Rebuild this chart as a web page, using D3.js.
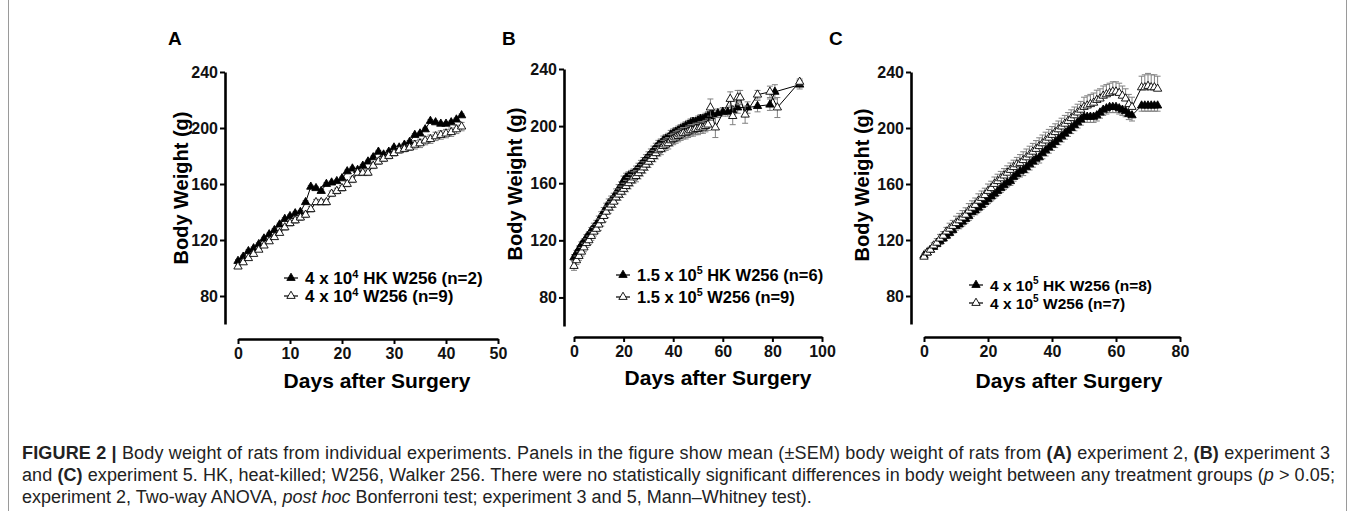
<!DOCTYPE html>
<html>
<head>
<meta charset="utf-8">
<script src="https://cdn.jsdelivr.net/npm/d3@7"></script>
<style>
  body { margin: 0; background: #fff; }
  svg { display: block; font-family: "Liberation Sans", Arial, sans-serif; }
</style>
</head>
<body>
<script>
// ---- data ----
var yTicks = [80, 120, 160, 200, 240];

// Panel A, experiment 2
var aXTicks = [0, 10, 20, 30, 40, 50];
var aDays = d3.range(0, 44);
var aHk = [105,108,112,114,117,121,124,127,131,135,137,139,140,147,158,157,155,160,161,162,164,169,171,170,173,176,179,183,181,183,186,186,188,190,195,196,199,205,204,203,203,204,206,209];
var aHkSem = [1,1,1,1,1,1,1,1,1,1,1,1,1,1,1,1,1,1,1,1,1,1,1,1,1,1,1,1,1,1,1,1,1,1,1,1,1,1,1,1,1,1,1,1];
var aW = [101,104,107,110,113,116,119,122,125,129,132,134,136,138,142,147,147,147,153,155,157,160,163,168,168,168,173,176,178,180,182,184,185,186,188,189,191,192,194,195,196,197,199,201];
var aWSem = [1,1,1,1,1,1,1,1,1,2,2,2,2,2,2,2,2,2,2,2,2,2,2,2,2,2,2,2,2,2,2,2,2,2,3,3,3,3,3,3,3,3,3,3];
var aLegend = [["4 x 10", "4", " HK W256 (n=2)"], ["4 x 10", "4", " W256 (n=9)"]];

// Panel B, experiment 3
var bXTicks = [0, 20, 40, 60, 80, 100];
var bHkDays = d3.range(0, 57).concat([58, 60, 62, 64, 66, 70, 74, 79, 81, 91]);
var bHk = [108,111,114,117,119,122,124,127,129,131,134,137,140,143,146,148,150,153,156,158,162,164,165,166,167,169,171,173,175,177,179,181,183,185,187,188,190,191,192,194,195,196,197,198,199,200,201,202,203,203,204,205,205,206,207,207,208,
           209,210,210,211,213,213,214,215,224,229];
var bHkSem = [2,2,2,2,2,2,2,2,3,3,3,3,3,3,3,3,3,3,3,3,3,3,3,3,3,3,3,3,3,3,3,3,3,3,3,3,3,3,3,3,3,3,3,3,3,3,3,3,3,3,3,3,3,3,3,3,3,
              3,3,3,3,4,4,4,4,5,3];
var bWDays = d3.range(0, 55).concat([55, 57, 63, 64, 66, 67, 69, 74, 79, 82, 91]);
var bW = [102,106,109,112,115,118,120,123,126,128,131,134,137,140,143,145,147,150,152,154,156,158,160,162,164,165,167,169,171,173,175,177,179,181,183,184,186,187,188,190,191,192,193,194,195,195,196,197,197,198,198,199,199,200,201,
          213,199,219,207,220,220,208,222,224,213,231];
var bWSem = [3,3,3,3,3,3,3,3,3,3,4,4,4,4,4,4,4,4,4,4,4,4,4,4,4,4,4,4,4,4,4,4,4,4,4,4,4,4,4,4,4,4,4,4,4,4,4,4,4,4,4,4,4,4,4,
             6,7,5,6,5,5,6,3,4,7,2];
var bLegend = [["1.5 x 10", "5", " HK W256 (n=6)"], ["1.5 x 10", "5", " W256 (n=9)"]];

// Panel C, experiment 5
var cXTicks = [0, 20, 40, 60, 80];
var cDays = d3.range(0, 66).concat([68, 69, 70, 71, 72, 73]);
var cHk = [109,111,113,115,117,119,121,123,125,127,130,131,133,135,137,140,141,143,145,147,149,151,153,155,157,159,161,162,165,167,169,170,172,174,176,178,179,182,184,186,188,190,192,194,196,198,200,202,204,206,208,208,208,208,209,211,213,214,215,215,215,214,213,212,210,209,
           216,216,216,216,216,216];
var cHkSem = [1,1,1,1,1,2,2,2,2,2,3,3,3,3,3,3,3,3,3,3,3,3,3,3,3,3,3,3,3,3,4,4,4,4,4,4,4,4,4,4,4,4,4,4,4,4,4,4,4,4,4,4,4,4,4,4,4,4,4,4,4,4,4,4,4,4,
              4,4,4,4,4,4];
var cW = [108,111,113,116,118,121,123,126,128,130,132,134,136,138,141,143,145,148,150,152,155,157,160,162,164,166,168,170,172,174,175,177,179,181,183,185,187,189,191,193,195,197,199,201,203,205,207,209,211,213,215,216,217,218,220,221,223,224,225,226,226,225,223,221,217,215,
          229,229,230,229,229,228];
var cWSem = [2,2,2,2,3,3,3,3,4,4,5,5,5,5,5,5,5,5,5,5,5,5,5,5,5,5,5,5,5,5,6,6,6,6,6,6,6,6,6,6,6,6,6,6,6,6,6,6,6,6,7,7,7,7,7,7,7,7,7,7,7,7,7,7,7,7,
             8,9,9,9,9,9];
var cLegend = [["4 x 10", "5", " HK W256 (n=8)"], ["4 x 10", "5", " W256 (n=7)"]];

var captionLines = [
  [["FIGURE 2 | ", "b"], ["Body weight of rats from individual experiments. Panels in the figure show mean (\u00B1SEM) body weight of rats from ", ""], ["(A)", "b"], [" experiment 2, ", ""], ["(B)", "b"], [" experiment 3", ""]],
  [["and ", ""], ["(C)", "b"], [" experiment 5. HK, heat-killed; W256, Walker 256. There were no statistically significant differences in body weight between any treatment groups (", ""], ["p", "i"], [" > 0.05;", ""]],
  [["experiment 2, Two-way ANOVA, ", ""], ["post hoc", "i"], [" Bonferroni test; experiment 3 and 5, Mann\u2013Whitney test).", ""]]
];
var captionWidths = [1308, 1313, null];

// ---- layout ----
var panels = [
  { letter: "A", letterX: 168, xDomain: [0, 50], xTicks: aXTicks, xRange: [238, 498], xAxisY: 339,
    yAxisX: 225, yRange: [324, 72], yLabelX: 188, yLabelY: 188, xLabelX: 377, xLabelY: 388,
    series: [
      { days: aDays, vals: aHk, sem: aHkSem, filled: true, err: "both" },
      { days: aDays, vals: aW, sem: aWSem, filled: false, err: "both" }],
    legend: { x: 284, y: [278, 296], size: 17, labels: aLegend } },
  { letter: "B", letterX: 502, xDomain: [0, 100], xTicks: bXTicks, xRange: [574, 822], xAxisY: 337,
    yAxisX: 564, yRange: [326, 69], yLabelX: 522, yLabelY: 184, xLabelX: 718, xLabelY: 385,
    series: [
      { days: bHkDays, vals: bHk, sem: bHkSem, filled: true, err: "both" },
      { days: bWDays, vals: bW, sem: bWSem, filled: false, err: "both" }],
    legend: { x: 616, y: [275, 297], size: 16.5, labels: bLegend } },
  { letter: "C", letterX: 829, xDomain: [0, 80], xTicks: cXTicks, xRange: [924, 1180], xAxisY: 337,
    yAxisX: 911, yRange: [324, 72], yLabelX: 869, yLabelY: 185, xLabelX: 1069, xLabelY: 388,
    series: [
      { days: cDays, vals: cHk, sem: cHkSem, filled: true, err: "down" },
      { days: cDays, vals: cW, sem: cWSem, filled: false, err: "up" }],
    legend: { x: 969, y: [285, 303], size: 15.5, labels: cLegend } }
];

var svg = d3.select("body").append("svg")
  .attr("width", 1355)
  .attr("height", 511);

// figure frame
svg.append("rect")
  .attr("x", 8.5).attr("y", -10)
  .attr("width", 1338).attr("height", 530)
  .attr("rx", 4)
  .attr("fill", "none")
  .attr("stroke", "#9a9a9a")
  .attr("stroke-width", 1);

var tri = d3.symbol().type(d3.symbolTriangle).size(30);

panels.forEach(function(p) {
  var x = d3.scaleLinear().domain(p.xDomain).range(p.xRange);
  var y = d3.scaleLinear().domain([60, 240]).range(p.yRange);
  var g = svg.append("g");

  // panel letter
  g.append("text")
    .attr("x", p.letterX).attr("y", 45)
    .attr("font-size", 19).attr("font-weight", "bold")
    .text(p.letter);

  // axes
  var xAxis = g.append("g")
    .attr("transform", `translate(0,${p.xAxisY})`)
    .call(d3.axisBottom(x).tickValues(p.xTicks).tickSize(5).tickSizeOuter(0).tickPadding(4));
  var yAxis = g.append("g")
    .attr("transform", `translate(${p.yAxisX},0)`)
    .call(d3.axisLeft(y).tickValues(yTicks).tickSize(5).tickSizeOuter(0).tickPadding(2));
  [xAxis, yAxis].forEach(function(a) {
    a.select(".domain").attr("stroke", "#000").attr("stroke-width", 2.6);
    a.selectAll(".tick line").attr("stroke", "#000").attr("stroke-width", 2);
    a.selectAll(".tick text")
      .attr("fill", "#111")
      .attr("font-size", 16)
      .attr("font-weight", "bold")
      .attr("font-family", "'Liberation Sans', Arial, sans-serif");
  });

  // axis titles
  g.append("text")
    .attr("transform", `translate(${p.yLabelX},${p.yLabelY}) rotate(-90)`)
    .attr("text-anchor", "middle")
    .attr("font-size", 20).attr("font-weight", "bold")
    .text("Body Weight (g)");
  g.append("text")
    .attr("x", p.xLabelX).attr("y", p.xLabelY)
    .attr("text-anchor", "middle")
    .attr("font-size", 21).attr("font-weight", "bold")
    .text("Days after Surgery");

  // series
  p.series.forEach(function(s) {
    var pts = s.days.map(function(d, i) { return { day: d, v: s.vals[i], sem: s.sem[i] }; });

    // error bars (SEM)
    var eb = g.append("g").attr("stroke", "#808080").attr("stroke-width", 1);
    pts.forEach(function(d) {
      var cx = x(d.day);
      var ends = [];
      if (s.err === "both" || s.err === "up") ends.push(d.v + d.sem);
      if (s.err === "both" || s.err === "down") ends.push(d.v - d.sem);
      ends.forEach(function(e) {
        eb.append("line").attr("x1", cx).attr("x2", cx).attr("y1", y(d.v)).attr("y2", y(e));
        eb.append("line").attr("x1", cx - 3).attr("x2", cx + 3).attr("y1", y(e)).attr("y2", y(e));
      });
    });

    g.append("path")
      .datum(pts)
      .attr("fill", "none")
      .attr("stroke", "#000")
      .attr("stroke-width", 1)
      .attr("d", d3.line().x(function(d) { return x(d.day); }).y(function(d) { return y(d.v); }));

    g.selectAll(null)
      .data(pts)
      .enter()
      .append("path")
      .attr("d", tri)
      .attr("transform", function(d) { return `translate(${x(d.day)},${y(d.v)})`; })
      .attr("fill", s.filled ? "#000" : "#fff")
      .attr("stroke", "#000")
      .attr("stroke-width", 0.9);
  });

  // legend
  p.legend.labels.forEach(function(lab, i) {
    var ly = p.legend.y[i];
    var lx = p.legend.x;
    g.append("line")
      .attr("x1", lx).attr("x2", lx + 14)
      .attr("y1", ly).attr("y2", ly)
      .attr("stroke", "#000").attr("stroke-width", 1.2);
    g.append("path")
      .attr("d", tri)
      .attr("transform", `translate(${lx + 7},${ly})`)
      .attr("fill", i === 0 ? "#000" : "#fff")
      .attr("stroke", "#000").attr("stroke-width", 0.9);
    var t = g.append("text")
      .attr("x", lx + 21).attr("y", ly + p.legend.size * 0.36)
      .attr("font-size", p.legend.size)
      .attr("font-weight", "bold");
    t.append("tspan").text(lab[0]);
    t.append("tspan").attr("dy", -6.5).attr("font-size", p.legend.size * 0.65).text(lab[1]);
    t.append("tspan").attr("dy", 6.5).text(lab[2]);
  });
});

// caption
captionLines.forEach(function(line, i) {
  var t = svg.append("text")
    .attr("x", 22).attr("y", 459 + i * 22)
    .attr("font-size", 18)
    .attr("fill", "#222");
  if (captionWidths[i]) t.attr("textLength", captionWidths[i]).attr("lengthAdjust", "spacing");
  line.forEach(function(part) {
    var sp = t.append("tspan").text(part[0]);
    if (part[1] === "b") sp.attr("font-weight", "bold");
    if (part[1] === "i") sp.attr("font-style", "italic");
  });
});
</script>
</body>
</html>
